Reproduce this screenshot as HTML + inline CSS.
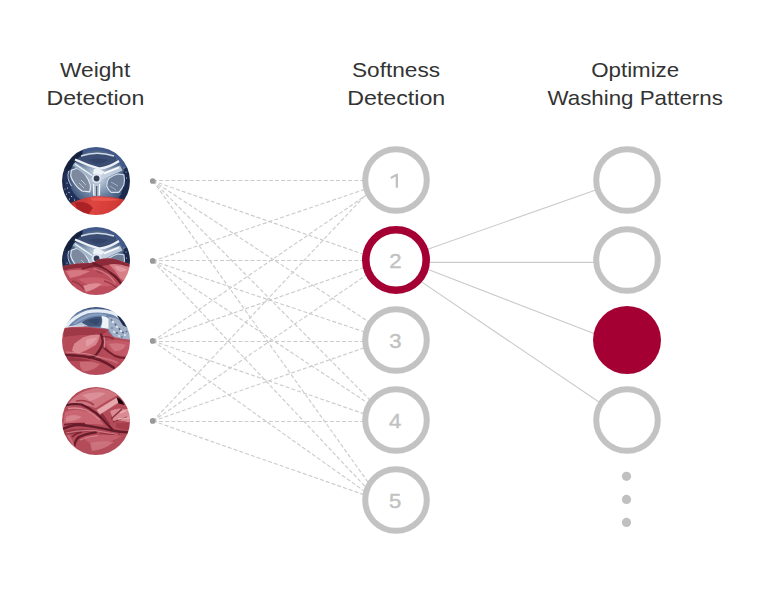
<!DOCTYPE html>
<html><head><meta charset="utf-8">
<style>
html,body{margin:0;padding:0;background:#fff;}
body{width:768px;height:600px;overflow:hidden;position:relative;font-family:"Liberation Sans",sans-serif;}
svg{position:absolute;left:0;top:0;display:block}
</style></head><body>
<svg width="768" height="600" viewBox="0 0 768 600">
<defs>
<clipPath id="cc"><circle r="34"/></clipPath>
<filter id="bl" x="-10%" y="-10%" width="120%" height="120%"><feGaussianBlur stdDeviation="0.6"/></filter>
<filter id="bl2" x="-10%" y="-10%" width="120%" height="120%"><feGaussianBlur stdDeviation="1.1"/></filter>
<radialGradient id="dg" gradientUnits="userSpaceOnUse" cx="0" cy="-5" r="38">
<stop offset="0" stop-color="#c4d0e0"/><stop offset="0.3" stop-color="#8da0b9"/><stop offset="0.62" stop-color="#51678a"/><stop offset="0.82" stop-color="#263a60"/><stop offset="1" stop-color="#15213e"/>
</radialGradient>
<linearGradient id="r1" gradientUnits="userSpaceOnUse" x1="-30" y1="14" x2="30" y2="34"><stop offset="0" stop-color="#b52a2c"/><stop offset="0.45" stop-color="#de4640"/><stop offset="0.8" stop-color="#d23a36"/><stop offset="1" stop-color="#b9302f"/></linearGradient>
<linearGradient id="r2" gradientUnits="userSpaceOnUse" x1="-30" y1="0" x2="25" y2="34"><stop offset="0" stop-color="#b8454f"/><stop offset="0.5" stop-color="#cf6169"/><stop offset="1" stop-color="#c04a55"/></linearGradient>
<radialGradient id="dg2" gradientUnits="userSpaceOnUse" cx="1" cy="-4" r="28">
<stop offset="0" stop-color="#dfe7f1"/><stop offset="0.3" stop-color="#a9b9cd"/><stop offset="0.7" stop-color="#6a80a0"/><stop offset="1" stop-color="#445b80"/>
</radialGradient>
<g id="drumA">
<rect x="-36" y="-36" width="72" height="72" fill="#1c2a4b"/>
<path d="M-15,-31.5 Q-4,-36 10,-34 Q26,-31 33,-14 L26,-12 Q12,-28 -4,-27 L-13,-25.5Z" fill="#43598a"/>
<circle cx="0.5" cy="-2" r="29" fill="url(#dg2)"/>
<path d="M-29,-8 Q-31,4 -24,14 Q-18,22 -8,25" stroke="#22325a" stroke-width="5" fill="none"/>
<path d="M-31,-12 Q-25,-25 -13,-30.5 L-14.5,-24 Q-22,-20 -25.5,-11Z" fill="#15203a"/>
<path d="M29,-10 Q32,2 27,13" stroke="#1d2c50" stroke-width="4" fill="none"/>
<!-- top lobe -->
<path d="M-17,-24 Q0,-31 19,-24.5 L21,-20 Q13,-14 4,-13.2 Q-8,-15.5 -19,-21.5Z" fill="#3b4e72"/>
<path d="M-15,-25 Q1,-30.5 18,-25" stroke="#dfe8f3" stroke-width="1.5" fill="none" opacity="0.9"/>
<path d="M-21,-21.5 Q-8,-15.5 3.5,-12.3 Q13,-13.5 23,-20" stroke="#eef3f9" stroke-width="2.3" fill="none"/>
<path d="M-8,-21 Q2,-24 12,-21 Q6,-17 0,-17Z" fill="#2f4165" opacity="0.8"/>
<!-- left lobe -->
<path d="M-24.7,-10.8 L-19,-12.7 Q-14,-10.5 -10.8,-6.3 Q-7,-1 -5.7,3.8 Q-5.2,8 -6.3,10.8 L-14,10 Q-18.5,7 -21.5,2.5 Q-24.5,-2 -25.3,-5 Z" fill="#7b899f" stroke="#e6ecf4" stroke-width="1.1"/>
<path d="M-27.4,-10 Q-29.5,-2 -24.5,5" stroke="#c9d5e4" stroke-width="0.9" fill="none"/>
<path d="M-17,2 L-12,7 M-15,-1 L-10,4" stroke="#dfe6ef" stroke-width="0.8" opacity="0.8"/>
<!-- right lobe -->
<path d="M12.7,-2.5 Q17,-5.5 21.5,-7 L27.9,-6.3 Q29,-1 27.9,3.8 Q26,8 22.8,11.4 L15.2,11.4 Q12,9 10.8,5 Q10.6,1 12.7,-2.5Z" fill="#6d7c96" stroke="#d4deea" stroke-width="1.1"/>
<path d="M14,5 L20,9 M15,1 L22,5" stroke="#cfd9e6" stroke-width="0.8" opacity="0.7"/>
<!-- spokes -->
<path d="M-3,-7 L-21,-19 L-23.5,-15.5 L-5.5,-2Z" fill="#9fb1c8" opacity="0.9"/>
<path d="M-4,-5.5 L-21,-17" stroke="#f2f6fa" stroke-width="1.2"/>
<path d="M4,-7.5 L24,-15.5 L26.5,-10.5 L6,-1.5Z" fill="#c7d3e2" opacity="0.9"/>
<path d="M8,-7.5 L23,-13.5" stroke="#ffffff" stroke-width="1.8"/>
<path d="M-3.2,2 L-3,15 L4.2,15 L4.5,2Z" fill="#b4c2d4"/>
<path d="M-2.4,3 L-2.2,14 M3.6,3 L3.4,14" stroke="#f4f7fb" stroke-width="1.1"/>
<path d="M0.6,5 L0.6,15" stroke="#4f5d78" stroke-width="1.3"/>
<path d="M-2,-12 Q3,-13 9,-9 L5,-6 Q1,-8 -3,-7Z" fill="#f4f7fb" opacity="0.9"/>
<circle cx="0.6" cy="-2.5" r="4.6" fill="#dfe7f0"/>
<circle cx="0.6" cy="-2.5" r="2.9" fill="#363d55"/>
<g fill="#e8eef6"><circle cx="-29" cy="2" r="0.55"/><circle cx="-28.5" cy="7" r="0.55"/><circle cx="-27" cy="11.5" r="0.55"/><circle cx="-24.5" cy="15.5" r="0.55"/><circle cx="-31" cy="8" r="0.5"/><circle cx="-29.5" cy="13" r="0.5"/><circle cx="-21.5" cy="19" r="0.55"/><circle cx="-26.5" cy="18" r="0.5"/><circle cx="28" cy="-13" r="0.55"/><circle cx="30" cy="-9" r="0.5"/><circle cx="30.5" cy="-3" r="0.5"/><circle cx="-18" cy="22" r="0.5"/></g>
</g>

</defs>
<rect width="768" height="600" fill="#fff"/>
<g stroke="#cccccc" stroke-width="1.15" stroke-dasharray="4 2.1" fill="none">
<line x1="153" y1="180.5" x2="366" y2="180.5"/>
<line x1="153" y1="261" x2="366.5" y2="188.8"/>
<line x1="153" y1="341" x2="368.6" y2="193.6"/>
<line x1="153" y1="421" x2="369.2" y2="191.1"/>
<line x1="153" y1="181" x2="364.5" y2="254.6"/>
<line x1="153" y1="260.5" x2="366" y2="260.5"/>
<line x1="153" y1="341" x2="364.5" y2="267.4"/>
<line x1="153" y1="421" x2="367.3" y2="274.4"/>
<line x1="153" y1="181" x2="369.3" y2="322.2"/>
<line x1="153" y1="261" x2="363.8" y2="331.7"/>
<line x1="153" y1="341.5" x2="366" y2="341.5"/>
<line x1="153" y1="421" x2="363.8" y2="348.0"/>
<line x1="153" y1="181" x2="371.5" y2="401.5"/>
<line x1="153" y1="261" x2="368.6" y2="403.5"/>
<line x1="153" y1="341" x2="363.8" y2="413.7"/>
<line x1="153" y1="421.5" x2="366" y2="421.5"/>
<line x1="153" y1="181" x2="368.3" y2="482.6"/>
<line x1="153" y1="261" x2="367.4" y2="488.9"/>
<line x1="153" y1="341" x2="366.0" y2="492.3"/>
<line x1="153" y1="421" x2="363.8" y2="494.6"/>
</g>
<g stroke="#cbcbcb" stroke-width="1.1" fill="none">
<line x1="396" y1="260.4" x2="627" y2="179"/>
<line x1="396" y1="262.4" x2="627" y2="262.4"/>
<line x1="396" y1="257.1" x2="627" y2="346.3"/>
<line x1="396" y1="264.6" x2="627" y2="421"/>
</g>
<g fill="#999">
<circle cx="152.7" cy="181" r="2.85"/><circle cx="152.7" cy="260.9" r="2.85"/><circle cx="152.7" cy="340.9" r="2.85"/><circle cx="152.7" cy="420.9" r="2.85"/>
</g>
<g fill="#fff" stroke="#c3c3c3" stroke-width="6">
<circle cx="396" cy="180" r="30.8"/>
<circle cx="396" cy="340" r="30.8"/>
<circle cx="396" cy="420" r="30.8"/>
<circle cx="396" cy="500" r="30.8"/>
<circle cx="627" cy="180" r="30.8"/>
<circle cx="627" cy="260" r="30.8"/>
<circle cx="627" cy="420" r="30.8"/>
</g>
<circle cx="396" cy="260" r="30.2" fill="#fff" stroke="#a50034" stroke-width="7.6"/>
<circle cx="627" cy="340" r="34" fill="#a50034"/>
<g fill="#c0c0c0"><circle cx="626.5" cy="476.3" r="4.6"/><circle cx="626.5" cy="499.4" r="4.6"/><circle cx="626.5" cy="522.4" r="4.6"/></g>
<path d="M398,187.7 L395.7,187.7 L395.7,176.4 L391.3,179 L390.3,177.1 L396.2,173.7 L398,173.7Z" fill="#c1c1c1"/>
<g font-family="Liberation Sans, sans-serif" font-size="20.6" fill="#c1c1c1" stroke="#c1c1c1" stroke-width="0.4">
<text x="389.2" y="267.7" textLength="12.3" lengthAdjust="spacingAndGlyphs">2</text><text x="389.2" y="347.7" textLength="12.3" lengthAdjust="spacingAndGlyphs">3</text><text x="389" y="427.6" textLength="12.3" lengthAdjust="spacingAndGlyphs">4</text><text x="389.1" y="507.5" textLength="12.3" lengthAdjust="spacingAndGlyphs">5</text>
</g>

<g transform="translate(96,181)"><g clip-path="url(#cc)"><g filter="url(#bl)">
<use href="#drumA"/>
<path d="M-36,26 L-23,21 Q-12,16.2 0,15.2 Q12,15 24,17.5 L36,21 L36,36 L-36,36Z" fill="url(#r1)"/>
<path d="M-21,21.5 Q-9,19.5 -3,27 L-8,34 L-18,30Z" fill="#a01c22" opacity="0.8"/>
<path d="M-6,17 Q8,15.5 24,19 Q8,20.5 -4,19.5Z" fill="#ef5e52" opacity="0.8"/>
</g></g></g>
<g transform="translate(96,261)"><g clip-path="url(#cc)"><g filter="url(#bl)">
<use href="#drumA"/>
<path d="M-36,6 L-33,5 Q-26,3.2 -19,2.5 Q-12,2 -5,1.9 Q-2,1.2 0,0 Q2,-1.2 3.8,-1.9 Q10,-3 16.5,-2.5 Q21,-1.8 25.3,0 L36,4 L36,36 L-36,36Z" fill="#bc4e5b"/>
<path d="M-34,5.6 Q-26,3.4 -19,2.7 Q-12,2.2 -5,2.1 Q-2,1.4 0,0.2 Q2,-1 3.8,-1.7 Q10,-2.8 16.5,-2.3 Q21,-1.6 25.3,0.2 L34,3.5 L34,6 Q24,3.5 16,3.5 Q8,4 2,6 Q-8,7.5 -18,7 Q-26,7.5 -34,10Z" fill="#8b2a38"/>
<path d="M-30,10 Q-18,8 -6,10 Q-14,15 -26,17Z" fill="#d98088" opacity="0.85"/>
<path d="M-2.5,2.5 Q4,5 10,9 Q15,12 19,15.2 Q23,19 25.3,22.8" stroke="#691b2a" stroke-width="2.6" fill="none" stroke-linecap="round"/>
<path d="M-2,4 Q-8,7 -14,8" stroke="#7a2232" stroke-width="1.6" fill="none"/>
<path d="M2,6 Q8,7 14,12 Q10,14 2,12 Q-2,9 2,6Z" fill="#a53c4b" opacity="0.8"/>
<path d="M13,3.5 Q22,2 33,6 L33,18 Q28,21 24,17 Q19,9 13,3.5Z" fill="#d67f88"/>
<path d="M18,5 Q26,5 31,9 Q27,12 22,10Z" fill="#e3a0a7" opacity="0.8"/>
<path d="M-32,14 Q-28,20 -22,26" stroke="#a53c4b" stroke-width="1.6" fill="none" opacity="0.8"/>
<path d="M-18,18 Q-6,15 6,17 Q14,19 20,24 Q10,26 0,25 Q-10,24 -18,18Z" fill="#c95f6b"/>
<path d="M-13,25 Q-4,21 6,23 Q-2,29 -10,31Z" fill="#e0929a" opacity="0.9"/>
<path d="M-24,20 Q-16,22 -12,28" stroke="#8d2c3b" stroke-width="1.4" fill="none" opacity="0.7"/>
<path d="M8,20 Q16,22 22,28" stroke="#8d2c3b" stroke-width="1.5" fill="none" opacity="0.7"/>
<path d="M0,5 Q8,7 14,11 Q19,15 22,20" stroke="#e3a0a7" stroke-width="1.2" fill="none" opacity="0.6" transform="translate(-2.5,2.5)"/>
</g></g></g>
<g transform="translate(96,341)"><g clip-path="url(#cc)"><g filter="url(#bl)">
<rect x="-36" y="-36" width="72" height="40" fill="#6c86aa"/>
<path d="M-36,-36 L36,-36 L36,-20 Q20,-32.5 0,-32.5 Q-20,-32.5 -33,-16Z" fill="#3a4f78"/>
<path d="M-33,-12 Q-20,-16 -13,-19.5 L-6,-15 L-32,-13Z" fill="#b7c4d6"/>
<path d="M-30,-14.5 Q-22,-24.5 -9,-29 Q4,-31.5 16.5,-28 Q21,-26.5 24,-23.5" stroke="#e6edf5" stroke-width="3.2" fill="none" stroke-linecap="round"/>
<path d="M-22,-17 Q-14,-23.5 -4,-26 Q4,-27 10,-25.5" stroke="#8aa0c0" stroke-width="2" fill="none"/>
<path d="M-14.5,-18.5 Q-7,-24 5,-24.5 Q7,-20 4,-14.5 L-7,-14.5Z" fill="#3f5478"/>
<path d="M-8,-20 Q-2,-23 4,-22 Q3,-18 0,-16Z" fill="#33466a" opacity="0.8"/>
<path d="M5.5,-25 Q10,-25 13,-22 L13,-12 L4.5,-13.5 Q7.5,-19 5.5,-25Z" fill="#eef3f8"/>
<path d="M12.5,-24 Q24,-24 32,-12 L34,0 L19,-3 Q14,-8 12.5,-12Z" fill="#a2b1c7"/>
<path d="M21,-25.5 Q28,-24 33,-13 L27,-15.5 Q24,-20 21,-25.5Z" fill="#1b2a4b"/>
<g fill="#f3f6fa"><circle cx="17" cy="-19" r="1"/><circle cx="21" cy="-14" r="0.9"/><circle cx="25" cy="-10" r="1"/><circle cx="18" cy="-9" r="0.9"/><circle cx="29" cy="-6" r="0.9"/><circle cx="23" cy="-5" r="0.8"/></g>
<g fill="#4a5f85"><circle cx="19.5" cy="-16.5" r="0.9"/><circle cx="23.5" cy="-12" r="0.9"/><circle cx="21" cy="-8" r="0.9"/><circle cx="27" cy="-8.5" r="0.9"/><circle cx="26" cy="-4" r="0.8"/><circle cx="30.5" cy="-9.5" r="0.8"/><circle cx="16" cy="-13" r="0.8"/><circle cx="15.5" cy="-21" r="0.8"/></g>
<path d="M-36,-12 L-32.3,-13.3 Q-22,-14.8 -12.7,-14.6 Q-4,-14 3.8,-12.7 L12,-12 Q12.5,-9 14,-7.6 Q16,-5 19,-3.8 Q26,-2 36,-1 L36,36 L-36,36Z" fill="#b54c59"/>
<path d="M-33,-13.6 Q-22,-15.3 -12,-15" stroke="#dfe6ef" stroke-width="0.9" fill="none"/>
<path d="M-33,-12.5 Q-14,-14 4,-12 L12,-11 Q8,-6 4,-6 Q-14,-7 -32,-4Z" fill="#9f3747"/>
<path d="M-34,-3 Q-28,-6 -21,-3 Q-24,4 -25,10 L-34,12Z" fill="#b64c59"/>
<path d="M-12.7,-3.8 Q-4,-7 4,-6.3 Q3,-1 0,3.8 Q-8,9 -17.7,12.7 L-24,10 Q-23,5 -21.5,2.5 Q-17,-1 -12.7,-3.8Z" fill="#d9868f"/>
<path d="M-10,-1 Q-3,-4 1,-3 Q-2,2 -10,6Z" fill="#e3a0a7" opacity="0.8"/>
<path d="M5,-6.5 Q7.5,-1 6.3,3.8 Q4,9.5 0,14 Q-3,16 -7.6,16.5" stroke="#681b2a" stroke-width="2.3" fill="none" stroke-linecap="round"/>
<path d="M7,-4 Q12,-5 18,-2" stroke="#8d2c3b" stroke-width="1.6" fill="none"/>
<path d="M10,0 Q22,-2 34,1 L34,14 Q24,16 16,12 Q11,7 10,0Z" fill="#c35966"/>
<path d="M13,3 Q22,1 30,4 Q26,11 18,10Z" fill="#d27883" opacity="0.9"/>
<path d="M6,5 Q12,11 19,15 Q25,17.5 32,17" stroke="#741f2e" stroke-width="2" fill="none" stroke-linecap="round"/>
<path d="M-32,14 Q-22,14.2 -12.7,15.2 Q-3,16.5 3.8,19 Q11,22 17.7,26.6" stroke="#681b2a" stroke-width="2.6" fill="none" stroke-linecap="round"/>
<path d="M-30,16 Q-16,16 -4,20 Q-16,20 -28,20Z" fill="#8d2c3b" opacity="0.7"/>
<path d="M-16,21 Q-6,19.5 4,23 Q-2,30 -12,30.5 Q-17,27 -16,21Z" fill="#c96a75"/>
<path d="M6,17 Q14,18 22,22" stroke="#cf7883" stroke-width="2" fill="none" opacity="0.7"/>
<path d="M-30,11 Q-18,11.5 -8,13 Q0,15 6,17" stroke="#e0979f" stroke-width="1.2" fill="none" opacity="0.7"/>
<path d="M8,-4 Q9.5,2 8,7" stroke="#e3a0a7" stroke-width="1.2" fill="none" opacity="0.7"/>
</g></g></g>
<g transform="translate(96,421)"><g clip-path="url(#cc)"><g filter="url(#bl)">
<rect x="-36" y="-36" width="72" height="72" fill="#b34b58"/>
<path d="M-30,-14 Q-20,-30 0,-33 Q14,-32 22,-26 Q10,-20 0,-13 Q-12,-18 -30,-14Z" fill="#cf7680"/>
<path d="M-14,-26 Q-2,-30 10,-28 Q2,-22 -6,-20Z" fill="#dd929a" opacity="0.9"/>
<path d="M-20,-20 Q-10,-22 -2,-16" stroke="#a43c4a" stroke-width="1.6" fill="none"/>
<path d="M-31,-9 Q-20,-14 -8,-9 Q2,-4 8,4 Q-4,2 -14,4 Q-24,3 -33,4Z" fill="#c96672"/>
<path d="M-30,-4 Q-22,-8 -14,-4 Q-20,0 -30,1Z" fill="#d98b93" opacity="0.8"/>
<path d="M0.5,-11 L21,-23.5 L23.5,-19 L4,-6.5Z" fill="#e5a6ac"/>
<path d="M14,-10 Q24,-15 33,-10 L34,2 Q26,-2 18,1Z" fill="#d98a93"/>
<path d="M15,-2 L26,-12 M17,1 L31,-4" stroke="#8a2a3a" stroke-width="1.2" fill="none"/>
<path d="M20,2 Q28,3 34,1 L34,9 Q26,9 20,6Z" fill="#a53c4b"/>
<path d="M20.5,-24 Q26,-22 28.5,-16 L22.5,-17.5Z" fill="#1d060c"/>
<path d="M-31,-15.5 Q-22,-17.5 -14.5,-16.5 Q-6,-13 0,-8 Q7,-2 11.5,3.5 L16.5,8.5" stroke="#5e1726" stroke-width="2.2" fill="none" stroke-linecap="round"/>
<path d="M5,-7 Q9,-2 13,4" stroke="#7a2232" stroke-width="3" fill="none" opacity="0.7"/>
<path d="M-32,3.6 Q-22,2 -11,2.6" stroke="#7a2232" stroke-width="1.6" fill="none"/>
<path d="M-34,8.5 Q-26,4.5 -19,3.8 Q-10,4.2 -2,5.9 Q8,7.8 15,9.2 Q24,11 34,11.5" stroke="#641a29" stroke-width="2.4" fill="none" stroke-linecap="round"/>
<path d="M-33,10 Q-16,6 0,9 Q-16,12 -32,14Z" fill="#8d2c3b" opacity="0.7"/>
<path d="M-21.5,25 Q-21,19 -17,16 Q-10,12.5 0,11.3" stroke="#661a29" stroke-width="2.2" fill="none" stroke-linecap="round"/>
<path d="M-24,16 Q-20,12 -14,11" stroke="#7a2232" stroke-width="1.5" fill="none"/>
<path d="M-12,16 Q4,12 26,15 Q14,22 0,24 Q-10,22 -12,16Z" fill="#c4616d"/>
<path d="M-6,22 Q6,19 18,21 Q8,29 -4,30Z" fill="#cf7883" opacity="0.85"/>
<path d="M-28,14 Q-24,20 -22,26" stroke="#cf7883" stroke-width="2" fill="none" opacity="0.7"/>
<path d="M4,12 Q14,14 24,13" stroke="#8a2a3a" stroke-width="1.2" fill="none" opacity="0.8"/>
<path d="M-28,-12.5 Q-18,-14 -10,-11 Q-2,-7 4,-1" stroke="#e3a0a7" stroke-width="1.3" fill="none" opacity="0.75"/>
<path d="M-30,12 Q-16,8.5 -2,9.5 Q10,11.5 22,13.5" stroke="#dc8f98" stroke-width="1.2" fill="none" opacity="0.7"/>
<path d="M-16,19 Q-8,15.5 2,14.5" stroke="#e0979f" stroke-width="1.2" fill="none" opacity="0.7"/>
<path d="M24,-8 L33,-12 M22,-2 L33,-3" stroke="#ecb6bb" stroke-width="1.4" fill="none" opacity="0.8"/>
</g></g></g>

<g font-family="Liberation Sans, sans-serif" font-size="20.3" fill="#333">
<text x="60" y="77.2" textLength="70.3" lengthAdjust="spacingAndGlyphs">Weight</text>
<text x="46.5" y="105.4" textLength="97.8" lengthAdjust="spacingAndGlyphs">Detection</text>
<text x="352" y="77.2" textLength="88" lengthAdjust="spacingAndGlyphs">Softness</text>
<text x="347.2" y="105.4" textLength="98.1" lengthAdjust="spacingAndGlyphs">Detection</text>
<text x="591.2" y="77.2" textLength="88" lengthAdjust="spacingAndGlyphs">Optimize</text>
<text x="547.5" y="105.4" textLength="175.3" lengthAdjust="spacingAndGlyphs">Washing Patterns</text>
</g>
</svg>
</body></html>
